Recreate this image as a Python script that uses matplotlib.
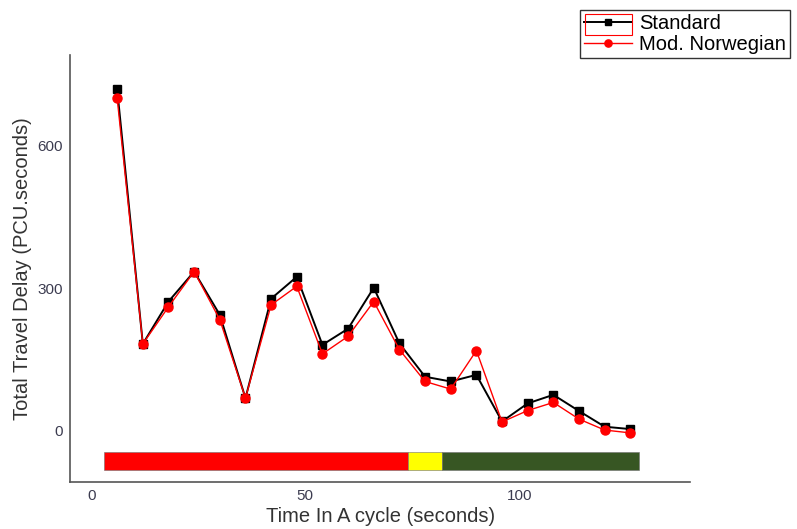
import matplotlib.pyplot as plt
from matplotlib.patches import Rectangle

plt.rcParams['font.family'] = ['Liberation Sans', 'DejaVu Sans']

# data
time = [6, 12, 18, 24, 30, 36, 42, 48, 54, 60, 66, 72, 78, 84, 90, 96, 102, 108, 114, 120, 126]
standard = [718, 183, 272, 335, 244, 69, 278, 324, 181, 215, 301, 184, 114, 104, 118, 20, 58, 76, 42, 9, 4]
norwegian = [699, 183, 261, 335, 234, 69, 265, 304, 162, 199, 272, 171, 104, 88, 169, 19, 43, 60, 25, 2, -4]

# signal phases along the cycle
phase_start = [3, 74, 82]
phase_len = [71, 8, 46]
phase_colors = ['#ff0000', '#ffff00', '#375623']
bar_y = -63
bar_h = 38

fig = plt.figure(figsize=(7.97, 5.29), dpi=100)
ax = fig.add_axes([0.088, 0.089, 0.778, 0.807])

ax.barh(bar_y, phase_len, left=phase_start, height=bar_h, color=phase_colors,
        edgecolor='#707070', linewidth=0.4, zorder=1)

ax.plot(time, standard, color='black', lw=1.4, marker='s', ms=6,
        label='Standard', zorder=3)
ax.plot(time, norwegian, color='red', lw=1.0, marker='o', ms=6.5,
        label='Mod. Norwegian', zorder=4)

ax.set_xlim(-5, 140)
ax.set_ylim(-107, 790)
ax.set_xticks([0, 50, 100])
ax.set_yticks([0, 300, 600])
ax.tick_params(length=0, labelsize=11, colors='#3c3c50', pad=5)
for s in ['top', 'right']:
    ax.spines[s].set_visible(False)
for s in ['left', 'bottom']:
    ax.spines[s].set_color('#555555')
    ax.spines[s].set_linewidth(1.2)

ax.set_xlabel('Time In A cycle (seconds)', fontsize=14.5, color='#333333', labelpad=3)
ax.set_ylabel('Total Travel Delay (PCU.seconds)', fontsize=14.5, color='#333333', labelpad=4)

leg = fig.legend(loc='upper left', bbox_to_anchor=(580 / 797, 1 - 10 / 529),
                 fontsize=14.5, frameon=True, fancybox=False, edgecolor='black',
                 handlelength=2.4, borderpad=0.2, labelspacing=0.1,
                 handletextpad=0.35, borderaxespad=0, markerscale=0.8)
leg.get_frame().set_linewidth(1.0)

# red highlight box round the first legend entry
fig.patches.append(Rectangle((585 / 797, 1 - 35 / 529), 47 / 797, 21 / 529,
                             transform=fig.transFigure, fill=False,
                             edgecolor='red', lw=0.8, zorder=6))

fig.savefig('out.png', dpi=100)
